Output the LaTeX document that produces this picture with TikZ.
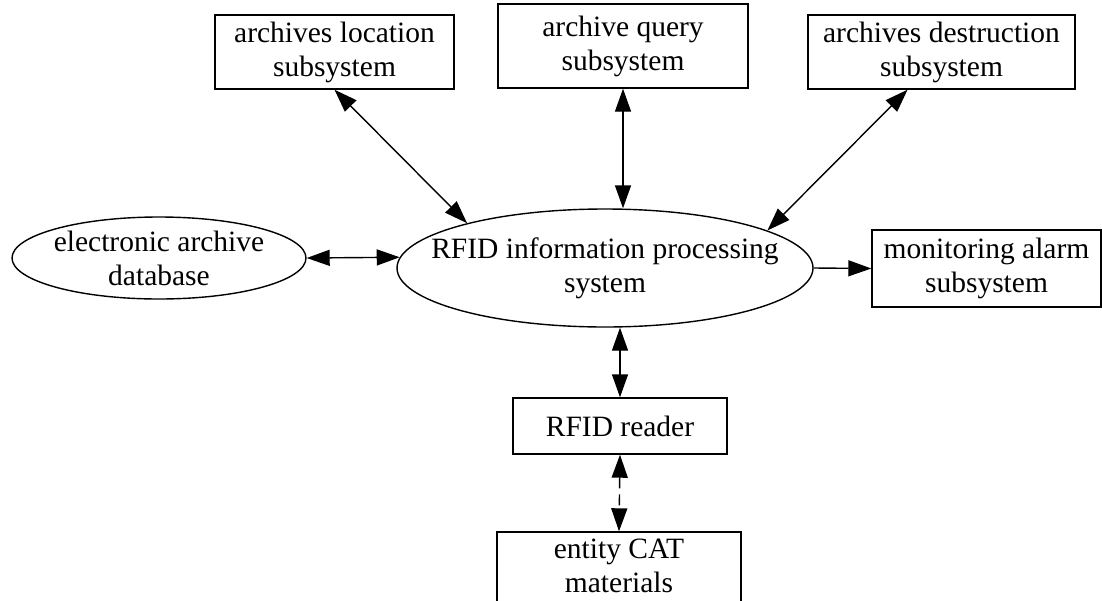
\documentclass[tikz,border=0pt]{standalone}
\usepackage{fontspec}
\setmainfont{Liberation Serif}
\usetikzlibrary{arrows.meta,shapes.geometric}
\tikzset{
  txt/.style={align=center, inner sep=0pt, font=\fontsize{29.5}{34}\selectfont},
  base/.style={draw, line width=1.4pt, inner sep=0pt, txt},
  boxnode/.style={base, rectangle},
  ellnode/.style={draw, line width=1.4pt, inner sep=0pt, ellipse},
  conn/.style={line width=1.4pt, -{Triangle[length=23pt,width=16pt]}},
  biconn/.style={line width=1.4pt, {Triangle[length=23pt,width=16pt]}-{Triangle[length=23pt,width=16pt]}},
}
\begin{document}
\begin{tikzpicture}[x=1pt,y=-1pt]
\clip (0,0) rectangle (1102,600);
\node[boxnode, minimum width=239pt, minimum height=74pt] (loc) at (334.5,52) {archives location\\subsystem};
\node[boxnode, minimum width=250pt, minimum height=84pt] (query) at (623,46) {archive query\\subsystem};
\node[boxnode, minimum width=267pt, minimum height=74pt] (destr) at (941.5,52) {archives destruction\\subsystem};
\node[ellnode, minimum width=294pt, minimum height=82pt,
  label={[txt]center:electronic archive\\database}] (db) at (159,258) {};
\node[ellnode, minimum width=416pt, minimum height=118pt,
  label={[txt]center:RFID information processing\\system}] (rfid) at (605,268) {};
\node[boxnode, minimum width=229pt, minimum height=77pt] (mon) at (986.5,268.5) {monitoring alarm\\subsystem};
\node[boxnode, minimum width=214pt, minimum height=56pt] (reader) at (620,426) {RFID reader};
\node[draw, line width=1.4pt, inner sep=0pt, rectangle, minimum width=244pt, minimum height=80pt,
  label={[txt, yshift=6pt]center:entity CAT\\materials}] (entity) at (619,572) {};

\draw[biconn] (loc.south) -- (rfid.162);
\draw[biconn] (query.south) -- (query.south |- rfid.north);
\draw[biconn] (destr.228) -- (rfid.13);
\draw[biconn] (db.east) -- (rfid.177);
\draw[conn] (rfid.east) -- (mon.west);
\draw[biconn] (reader.north |- rfid.south) -- (reader.north);
\draw[biconn, dash pattern=on 11pt off 6pt] (reader.south) -- (entity.north);
\end{tikzpicture}
\end{document}
